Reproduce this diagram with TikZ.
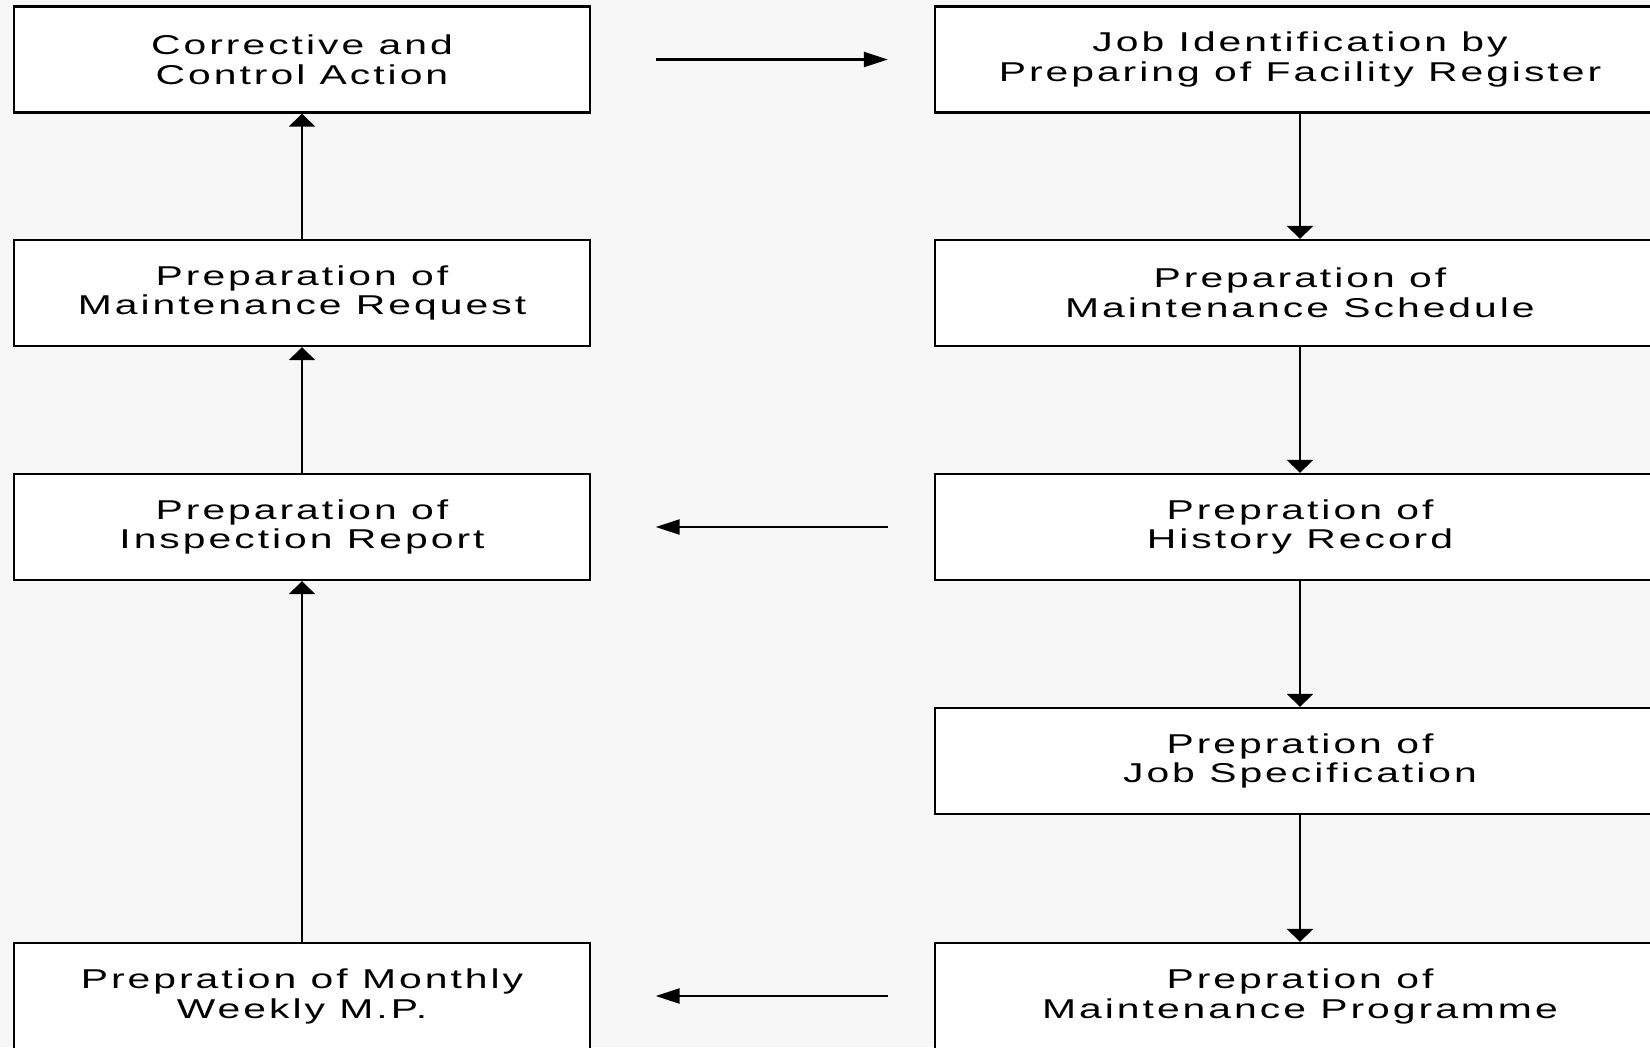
\documentclass[tikz,border=0pt]{standalone}
\usepackage{fontspec}
\setmainfont{Liberation Sans}[FakeStretch=1.5,LetterSpace=11]
\usepackage{xcolor}
\usetikzlibrary{arrows.meta}
\definecolor{paper}{RGB}{247,247,247}
\tikzset{
    flow-box/.style = {draw, fill=white, line width=0.45mm, rectangle, inner sep=0pt, minimum height=21.2mm, align=center, font=\fontsize{15.5pt}{17pt}\selectfont},
    left-box/.style = {flow-box, minimum width=115.2mm},
    right-box/.style = {flow-box, minimum width=146mm},
    up-arrow/.style = {line width=0.45mm, -{Triangle[length=2.6mm, width=5.2mm]}},
    side-arrow/.style = {line width=0.45mm, -{Triangle[length=4.8mm, width=3mm]}},
}

\begin{document}
\begin{tikzpicture}[x=0.2mm, y=-0.2mm]
\fill[paper] (0,0) rectangle (1650,1047);
\clip (0,0) rectangle (1650,1047);
% left column
\node [left-box] (control) at (302,59.5) {Corrective and\\Control Action};
\node [left-box] (request) at (302,293) {Preparation of\\Maintenance Request};
\node [left-box] (inspect) at (302,527) {Preparation of\\Inspection Report};
\node [left-box] (monthly) at (302,996) {Prepration of Monthly\\Weekly M.P.};
% right column
\node [right-box] (register) at (1300,59.5) {Job Identification by\\Preparing of Facility Register};
\node [right-box] (schedule) at (1300,293) {Preparation of\\Maintenance Schedule};
\node [right-box] (history) at (1300,527) {Prepration of\\History Record};
\node [right-box] (jobspec) at (1300,761) {Prepration of\\Job Specification};
\node [right-box] (programme) at (1300,996) {Prepration of\\Maintenance Programme};
% arrows
\draw [up-arrow] (monthly) -- (inspect);
\draw [up-arrow] (inspect) -- (request);
\draw [up-arrow] (request) -- (control);
\draw [up-arrow] (register) -- (schedule);
\draw [up-arrow] (schedule) -- (history);
\draw [up-arrow] (history) -- (jobspec);
\draw [up-arrow] (jobspec) -- (programme);
\draw [side-arrow, shorten <=12.9mm, shorten >=9.2mm] (control) -- (register);
\draw [side-arrow, shorten <=9.2mm, shorten >=12.9mm] (history) -- (inspect);
\draw [side-arrow, shorten <=9.2mm, shorten >=12.9mm] (programme) -- (monthly);
\end{tikzpicture}
\end{document}
